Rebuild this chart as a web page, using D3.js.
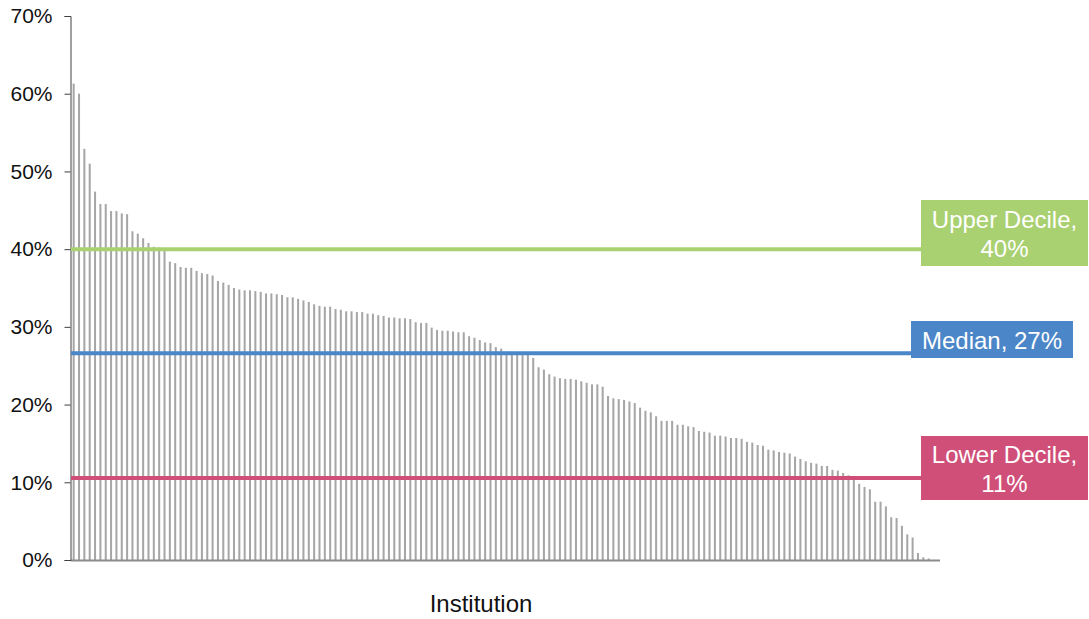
<!DOCTYPE html>
<html>
<head>
<meta charset="utf-8">
<script src="https://cdn.jsdelivr.net/npm/d3@7"></script>
<style>
html, body { margin: 0; padding: 0; background: #fff; }
svg { display: block; font-family: "Liberation Sans", Arial, sans-serif; }
</style>
</head>
<body>
<svg id="chart" width="1089" height="619"></svg>
<script>
// Share per institution (%), sorted descending
const values = [
  61.3, 60.0, 52.9, 51.0, 47.4, 45.8, 45.8, 44.9, 44.9, 44.6,
  44.5, 42.3, 42.0, 41.4, 40.8, 40.3, 40.2, 40.1, 38.4, 38.2,
  37.7, 37.6, 37.6, 37.2, 36.9, 36.8, 36.6, 35.9, 35.7, 35.4,
  35.0, 34.8, 34.7, 34.7, 34.6, 34.5, 34.3, 34.3, 34.2, 34.1,
  33.8, 33.8, 33.6, 33.4, 33.2, 32.9, 32.7, 32.6, 32.6, 32.3,
  32.2, 32.0, 32.0, 31.9, 31.9, 31.7, 31.7, 31.5, 31.4, 31.2,
  31.2, 31.1, 31.1, 31.0, 30.6, 30.5, 30.5, 29.9, 29.6, 29.5,
  29.5, 29.4, 29.3, 29.3, 28.8, 28.6, 28.3, 28.0, 27.9, 27.4,
  27.2, 26.8, 26.7, 26.6, 26.5, 26.4, 26.0, 24.8, 24.5, 23.9,
  23.6, 23.4, 23.3, 23.3, 23.2, 23.0, 22.8, 22.6, 22.6, 22.3,
  21.1, 20.8, 20.7, 20.6, 20.4, 20.2, 19.6, 19.2, 19.0, 18.5,
  17.9, 17.9, 17.9, 17.4, 17.4, 17.2, 17.1, 16.6, 16.5, 16.4,
  16.0, 16.0, 15.9, 15.7, 15.7, 15.6, 15.2, 15.1, 14.8, 14.7,
  14.2, 14.1, 13.9, 13.8, 13.7, 13.3, 13.0, 12.7, 12.5, 12.4,
  12.1, 12.1, 11.6, 11.5, 11.2, 10.9, 10.3, 9.8, 9.4, 9.1,
  7.5, 7.5, 6.9, 5.5, 5.4, 4.4, 3.3, 2.9, 0.9, 0.35,
  0.2, 0, 0
];
const institutions = values.map((_, i) => "Institution " + (i + 1));

const yTicks = [0, 10, 20, 30, 40, 50, 60, 70];

const refNames  = ["Upper Decile", "Median", "Lower Decile"];
const refValues = [40.0, 26.6, 10.55];
const refLabels = [["Upper Decile,", "40%"], ["Median, 27%"], ["Lower Decile,", "11%"]];
const refColors = ["#a9d071", "#4a86c8", "#cf4f79"];

const xTitle = "Institution";

(function () {
const svg = d3.select("#chart");
const mLeft = 71, mRight = 942, mTop = 16, mBottom = 560;

const x = d3.scaleBand().domain(institutions).range([mLeft, mRight])
  .paddingInner(0.62).paddingOuter(0.31);
const y = d3.scaleLinear().domain([0, 70]).range([mBottom, mTop]);

// bars
svg.append("g").selectAll("rect").data(values).join("rect")
  .attr("x", (d, i) => x(institutions[i]))
  .attr("width", x.bandwidth())
  .attr("y", d => y(d))
  .attr("height", d => y(0) - y(d))
  .attr("fill", "#a6a6a6");

// x axis line
svg.append("line")
  .attr("x1", mLeft).attr("x2", 940)
  .attr("y1", y(0) + 0.5).attr("y2", y(0) + 0.5)
  .attr("stroke", "#8c8c8c").attr("stroke-width", 2);

// y axis
const yAxis = d3.axisLeft(y).tickValues(yTicks).tickSize(6).tickPadding(12)
  .tickFormat(d => d + "%");
const gy = svg.append("g").attr("transform", `translate(${mLeft - 0.5},0)`).call(yAxis);
gy.select(".domain").attr("stroke", "#404040");
gy.selectAll(".tick line").attr("stroke", "#404040");
gy.selectAll(".tick text").attr("fill", "#111").style("font-size", "21px")
  .style("font-family", "'Liberation Sans', Arial, sans-serif");

// reference lines + labels
const boxes = [
  { x0: 921, x1: 1088, y0: 200, y1: 266 },
  { x0: 911, x1: 1073, y0: 321, y1: 358 },
  { x0: 921, x1: 1088, y0: 436, y1: 500 }
];
refValues.forEach((v, k) => {
  const b = boxes[k];
  svg.append("line")
    .attr("x1", mLeft).attr("x2", b.x0)
    .attr("y1", y(v)).attr("y2", y(v))
    .attr("stroke", refColors[k]).attr("stroke-width", 4);
  svg.append("rect")
    .attr("x", b.x0).attr("y", b.y0)
    .attr("width", b.x1 - b.x0).attr("height", b.y1 - b.y0)
    .attr("fill", refColors[k]);
  const lines = refLabels[k];
  const cx = (b.x0 + b.x1) / 2;
  const lh = 29;
  const cy = (b.y0 + b.y1) / 2;
  lines.forEach((t, j) => {
    svg.append("text")
      .attr("x", cx)
      .attr("y", cy + (j - (lines.length - 1) / 2) * lh + 9)
      .attr("text-anchor", "middle")
      .attr("fill", "#fff")
      .style("font-size", "24px")
      .text(t);
  });
});

// x title
svg.append("text")
  .attr("x", 481).attr("y", 612)
  .attr("text-anchor", "middle")
  .attr("fill", "#111")
  .style("font-size", "24px")
  .text(xTitle);
})();
</script>
</body>
</html>
